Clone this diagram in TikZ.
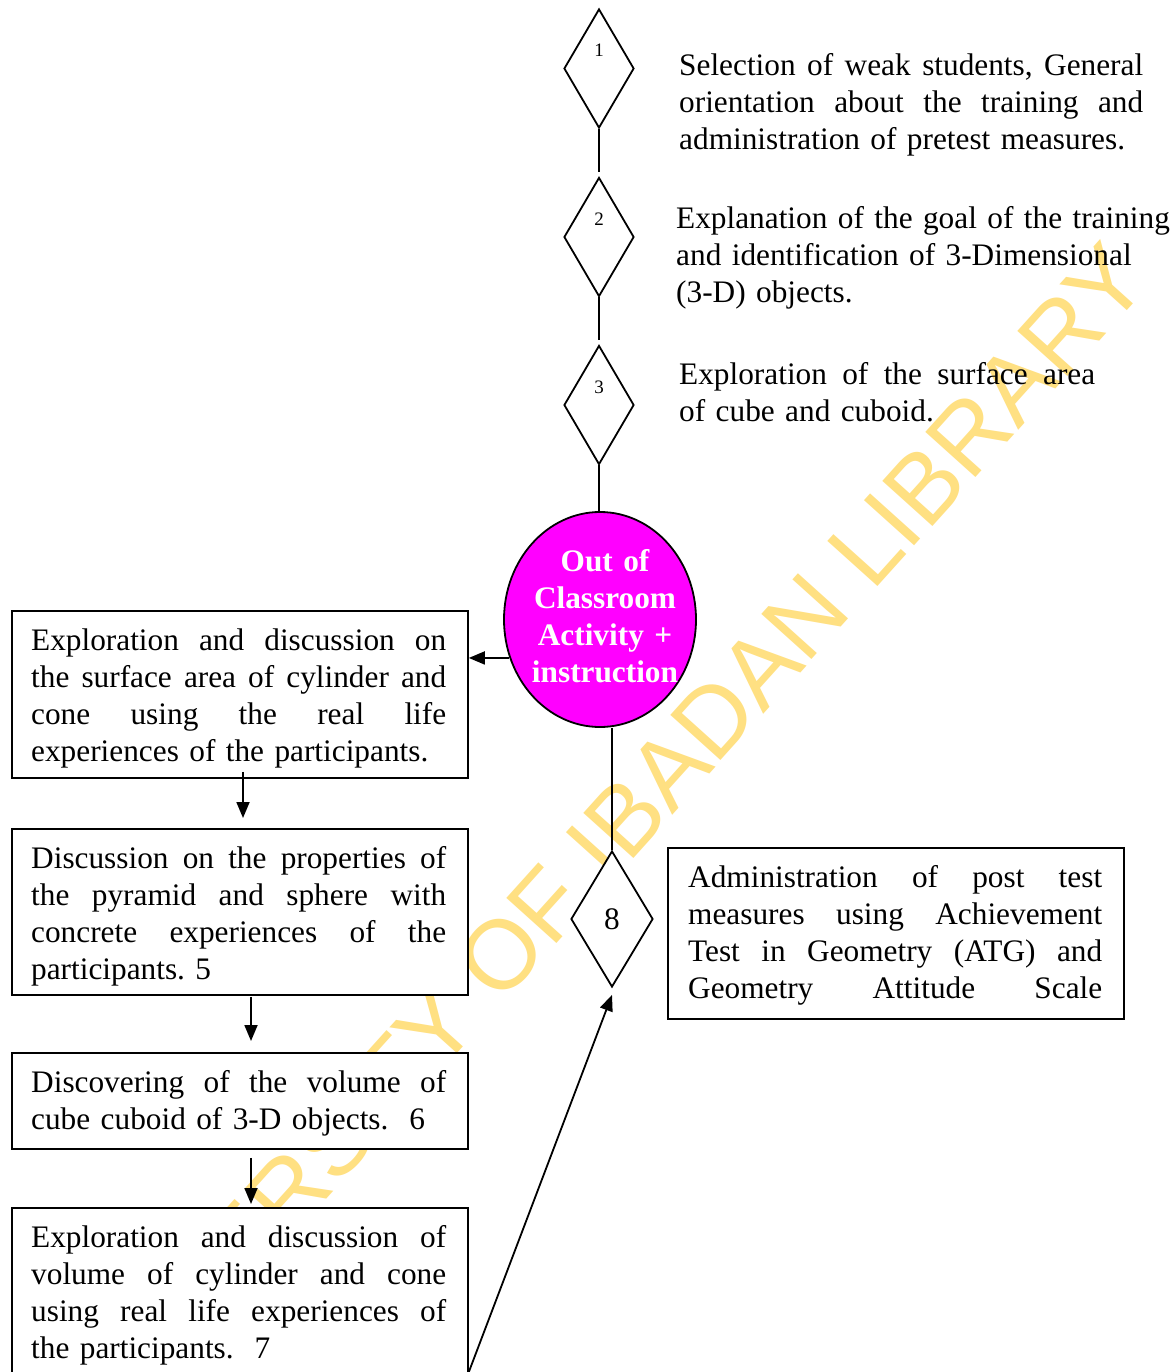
\documentclass[tikz,border=0pt]{standalone}
\usepackage{fontspec}
\setmainfont{Liberation Serif}
\newfontfamily\wmfont{Liberation Sans}
\usetikzlibrary{shapes.geometric,arrows.meta,calc}
\definecolor{wmyellow}{RGB}{255,224,130}
\definecolor{ovalfill}{RGB}{255,0,255}
\newcommand\jl[2]{\leavevmode\hbox to #1pt{\spaceskip=0.25em plus 1fil\relax #2}}
\frenchspacing
\begin{document}
\begin{tikzpicture}[x=1pt,y=-1pt,
  txt/.style={anchor=north west, inner sep=0pt, align=left, font=\fontsize{31.3}{37}\selectfont},
  boxed/.style={draw, fill=white, line width=1.8pt, anchor=north west, inner sep=0pt, minimum width=456pt},
  dia/.style={draw, fill=white, diamond, line width=1.8pt, inner sep=0pt},
  num/.style={inner sep=0pt, font=\fontsize{19}{22}\selectfont},
  conn/.style={line width=1.8pt},
  arr/.style={line width=1.8pt, -{Triangle[length=16pt,width=13pt]}},
]
\useasboundingbox (0,0) rectangle (1173,1372);
\clip (0,0) rectangle (1173,1372);
\fill[white] (0,0) rectangle (1173,1372);

% watermark (behind everything)
\node[font=\wmfont\fontsize{98}{98}\selectfont, text=wmyellow, rotate=48,
      anchor=base west, inner sep=0pt] (wm) at (89,1463) {UNIVERSITY OF IBADAN LIBRARY};

% top diamonds
\node[dia, minimum width=70pt, minimum height=119pt] (d1) at (599,68.5) {};
\node[dia, minimum width=70pt, minimum height=119pt] (d2) at (599,237) {};
\node[dia, minimum width=70pt, minimum height=119pt] (d3) at (599,405) {};
\node[num] (n1) at (599,50) {1};
\node[num] (n2) at (599,219) {2};
\node[num] (n3) at (599,387) {3};

% ellipse
\node[draw, ellipse, fill=ovalfill, line width=1.8pt, minimum width=192pt,
      minimum height=215pt, inner sep=0pt] (ell) at (600,619.5) {};
\node[text=white, text width=170pt, align=center, inner sep=0pt,
      font=\bfseries\fontsize{31.3}{37}\selectfont] (ellt) at (605,620)
  {\strut Out of\\\strut Classroom\\\strut Activity +\\\strut instruction\strut};

% diamond 8
\node[dia, minimum width=82pt, minimum height=136pt,
      font=\fontsize{31.3}{37}\selectfont] (d8) at (612,919) {8};

% boxes
\node[boxed, minimum height=167pt] (box1) at (11,610) {};
\node[boxed, minimum height=166pt] (box2) at (11,828) {};
\node[boxed, minimum height=96pt] (box3) at (11,1052) {};
\node[boxed, minimum height=220pt] (box4) at (11,1207) {};
\node[boxed, minimum height=171pt] (boxR) at (667,847) {};

\node[txt, text width=415pt] (t1) at (31,624.1)
 {\noindent\strut\jl{415}{Exploration and discussion on}\\
  \jl{415}{the surface area of cylinder and}\\
  \jl{415}{cone using the real life}\\
  experiences of the participants.};
\node[txt, text width=415pt] (t2) at (31,842.1)
 {\noindent\strut\jl{415}{Discussion on the properties of}\\
  \jl{415}{the pyramid and sphere with}\\
  \jl{415}{concrete experiences of the}\\
  participants. 5};
\node[txt, text width=415pt] (t3) at (31,1066.1)
 {\noindent\strut\jl{415}{Discovering of the volume of}\\
  cube cuboid of 3-D objects.~~6};
\node[txt, text width=415pt] (t4) at (31,1221.1)
 {\noindent\strut\jl{415}{Exploration and discussion of}\\
  \jl{415}{volume of cylinder and cone}\\
  \jl{415}{using real life experiences of}\\
  the participants.~~7};
\node[txt, text width=414pt] (tR) at (688,861.1)
 {\noindent\strut\jl{414}{Administration of post test}\\
  \jl{414}{measures using Achievement}\\
  \jl{414}{Test in Geometry (ATG) and}\\
  \jl{414}{Geometry Attitude Scale}};

% right texts
\node[txt, text width=464pt] (r1) at (679,49.1)
 {\noindent\strut\jl{464}{Selection of weak students, General}\\
  \jl{464}{orientation about the training and}\\
  administration of pretest measures.};
\node[txt, text width=510pt] (r2) at (676,202.1)
 {\noindent\strut Explanation of the goal of the training\\
  and identification of 3-Dimensional\\
  (3-D) objects.};
\node[txt, text width=416pt] (r3) at (679,358.1)
 {\noindent\strut\jl{416}{Exploration of the surface area}\\
  of cube and cuboid.};

% connectors
\draw[conn] (d1.south) -- ([yshift=5pt]d2.north);
\draw[conn] (d2.south) -- ([yshift=5pt]d3.north);
\draw[conn] (d3.south) -- (d3.south |- ell.north);
\draw[conn] (d8.north |- ell.south) -- (d8.north);
\draw[arr] (ell.203) -- (box1.east |- ell.203);

\coordinate (c1) at (243,0);
\coordinate (c2) at (251,0);
\coordinate (bot) at (0,1372);
\draw[arr] ($(box1.south -| c1)+(0,-7)$) -- ($(box2.north -| c1)+(0,-10)$);
\draw[arr] ($(box2.south -| c2)+(0,1)$) -- ($(box3.north -| c2)+(0,-11)$);
\draw[arr] ($(box3.south -| c2)+(0,8)$) -- ($(box4.north -| c2)+(0,-3)$);
\draw[arr] (box4.east |- bot) -- ($(d8.south)+(0,7)$);
\end{tikzpicture}
\end{document}
